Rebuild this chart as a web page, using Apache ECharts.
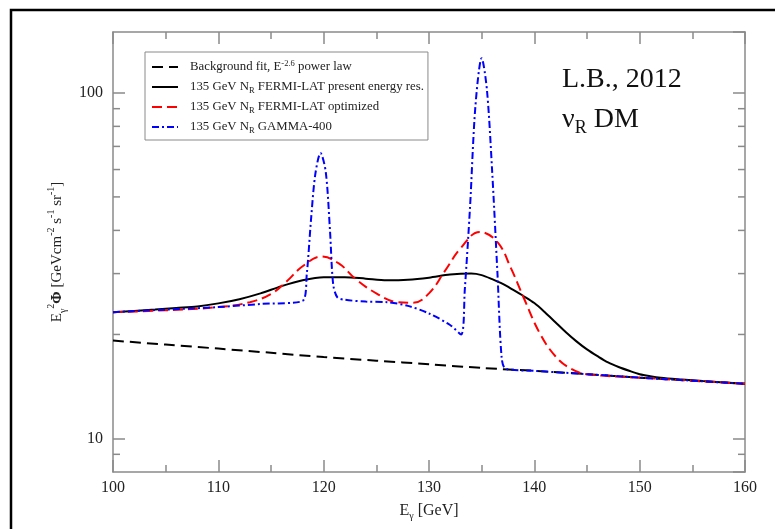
<!DOCTYPE html>
<html>
<head>
<meta charset="utf-8">
<script src="https://cdn.jsdelivr.net/npm/echarts@6/dist/echarts.min.js"></script>
<style>
  html, body { margin: 0; padding: 0; background: #fff; }
  #chart { width: 775px; height: 529px; }
</style>
</head>
<body>
<div id="chart"></div>
<script>
// Photon energy (GeV) and E^2 * flux (GeV cm^-2 s^-1 sr^-1) for each curve
const bgEnergy = [100, 105, 110, 115, 120, 125, 130, 135, 140, 145, 150, 155, 160];
const bgFlux   = [19.2, 18.7, 18.2, 17.7, 17.2, 16.8, 16.4, 16.0, 15.7, 15.35, 15.0, 14.7, 14.4];

const presEnergy = [100, 102, 104, 106, 108, 110, 112, 114, 116, 118, 120, 122, 124, 126, 128, 130,
                    132, 134, 135, 136, 137, 138, 139, 140, 141, 142, 143, 144, 145, 146, 147, 148,
                    149, 150, 151, 152, 154, 156, 158, 160];
const presFlux   = [23.2, 23.4, 23.6, 23.85, 24.1, 24.6, 25.3, 26.3, 27.6, 28.7, 29.3, 29.3, 29.0, 28.7, 28.8, 29.2,
                    29.8, 30.0, 29.7, 28.9, 28.0, 26.9, 25.8, 24.65, 23.2, 21.7, 20.3, 19.1, 18.1, 17.3, 16.6, 16.1,
                    15.7, 15.35, 15.15, 15.0, 14.82, 14.66, 14.53, 14.4];

const optEnergy = [100, 105, 110, 113, 115, 116.5, 118, 119.8, 121.5, 123, 125, 127, 128.5, 130, 131.5, 133,
                   134.8, 136.5, 137.8, 139, 140.5, 142, 143.5, 145, 150, 155, 160];
const optFlux   = [23.2, 23.5, 24.0, 24.8, 26.2, 28.5, 31.5, 33.6, 32.0, 29.0, 26.3, 24.8, 24.7, 26.3, 30.5, 35.5,
                   39.6, 37.0, 31.0, 25.5, 20.2, 17.3, 15.9, 15.35, 15.0, 14.7, 14.4];

const g400Energy = [100, 105, 110, 114, 118, 118.4, 118.8, 119.2, 119.7, 120.2, 120.6, 120.9, 121.3, 122, 124, 126,
                    128, 130, 132, 133.05, 133.4, 133.9, 134.4, 135.0, 135.5, 136.0, 136.5, 136.9, 137.3, 140, 145,
                    150, 155, 160];
const g400Flux   = [23.2, 23.6, 24.0, 24.5, 25.0, 30, 43, 58, 67, 59, 40, 28, 25.6, 25.2, 24.9, 24.8,
                    24.2, 23.0, 21.3, 20.0, 27, 47, 91, 126, 102, 59, 30, 17.1, 15.9, 15.7, 15.35,
                    15.0, 14.7, 14.4];

// Minor tick values on the logarithmic flux axis
const yMinorTicks = [9, 20, 30, 40, 50, 60, 70, 80, 90];

const seriesNames = [
  'Background fit, E-2.6 power law',
  '135 GeV NR FERMI-LAT present energy res.',
  '135 GeV NR FERMI-LAT optimized',
  '135 GeV NR GAMMA-400'
];
const legendRich = {
  'Background fit, E-2.6 power law': 'Background fit, E{sup|-2.6} power law',
  '135 GeV NR FERMI-LAT present energy res.': '135 GeV N{sub|R} FERMI-LAT present energy res.',
  '135 GeV NR FERMI-LAT optimized': '135 GeV N{sub|R} FERMI-LAT optimized',
  '135 GeV NR GAMMA-400': '135 GeV N{sub|R} GAMMA-400'
};

const zip = (xs, ys) => xs.map((x, i) => [x, ys[i]]);
const SERIF = 'Liberation Serif';
const AXIS_COLOR = '#8a8a8a';

const chart = echarts.init(document.getElementById('chart'), null, { renderer: 'canvas' });

const axisRich = {
  sup: { fontSize: 10, lineHeight: 10, verticalAlign: 'top', fontFamily: SERIF, color: '#222' },
  sub: { fontSize: 10, lineHeight: 10, verticalAlign: 'bottom', fontFamily: SERIF, color: '#222' },
  b: { fontSize: 15, lineHeight: 22, fontFamily: SERIF, color: '#222', fontWeight: 'bold' }
};

const option = {
  animation: false,
  backgroundColor: '#fff',
  grid: { left: 113, right: 30, top: 32, bottom: 57, containLabel: false },
  legend: {
    data: seriesNames,
    orient: 'vertical',
    left: 145,
    top: 52,
    padding: [7, 4, 5, 6],
    itemGap: 4,
    itemWidth: 26,
    itemHeight: 10,
    borderColor: '#8a8a8a',
    borderWidth: 1,
    backgroundColor: '#fff',
    selectedMode: false,
    itemStyle: { opacity: 0 },
    formatter: name => legendRich[name],
    textStyle: {
      fontFamily: SERIF,
      fontSize: 12.8,
      lineHeight: 16,
      color: '#222',
      padding: [0, 0, 0, 7],
      rich: {
        sup: { fontSize: 8.5, lineHeight: 8, verticalAlign: 'top', fontFamily: SERIF, color: '#222' },
        sub: { fontSize: 8.5, lineHeight: 8, verticalAlign: 'bottom', fontFamily: SERIF, color: '#222' }
      }
    }
  },
  xAxis: [
    {
      type: 'value', min: 100, max: 160, interval: 10, position: 'bottom',
      name: 'E{sub|γ} [GeV]',
      nameLocation: 'middle', nameGap: 26,
      nameTextStyle: { fontFamily: SERIF, fontSize: 16, color: '#222', lineHeight: 20, rich: axisRich },
      axisLine: { lineStyle: { color: AXIS_COLOR, width: 1.5 } },
      axisTick: { inside: true, length: 12, lineStyle: { color: AXIS_COLOR, width: 1.5 } },
      minorTick: { show: true, splitNumber: 2, length: 7, lineStyle: { color: AXIS_COLOR, width: 1.5 } },
      axisLabel: { fontFamily: SERIF, fontSize: 16, color: '#222', margin: 8 },
      splitLine: { show: false }
    },
    {
      type: 'value', min: 100, max: 160, interval: 10, position: 'top',
      axisLine: { lineStyle: { color: AXIS_COLOR, width: 1.5 } },
      axisTick: { inside: true, length: 12, lineStyle: { color: AXIS_COLOR, width: 1.5 } },
      minorTick: { show: true, splitNumber: 2, length: 7, lineStyle: { color: AXIS_COLOR, width: 1.5 } },
      axisLabel: { show: false },
      splitLine: { show: false }
    }
  ],
  yAxis: [
    {
      type: 'log', logBase: 10, min: 8, max: 150, position: 'left',
      name: 'E{sub|γ}{sup|2}{b|Φ} [GeVcm{sup|-2} s{sup|-1} sr{sup|-1}]',
      nameLocation: 'middle', nameGap: 39, nameRotate: 90,
      nameTextStyle: { fontFamily: SERIF, fontSize: 15, color: '#222', lineHeight: 22, rich: axisRich },
      axisLine: { lineStyle: { color: AXIS_COLOR, width: 1.5 } },
      axisTick: { inside: true, length: 12, lineStyle: { color: AXIS_COLOR, width: 1.5 } },
      axisLabel: {
        fontFamily: SERIF, fontSize: 16, color: '#222', margin: 10,
        showMinLabel: false, showMaxLabel: false,
        formatter: v => (v === 10 || v === 100) ? String(v) : ''
      },
      splitLine: { show: false }
    },
    {
      type: 'log', logBase: 10, min: 8, max: 150, position: 'right',
      axisLine: { lineStyle: { color: AXIS_COLOR, width: 1.5 } },
      axisTick: { inside: true, length: 12, lineStyle: { color: AXIS_COLOR, width: 1.5 } },
      axisLabel: { show: false },
      splitLine: { show: false }
    }
  ],
  series: [
    {
      name: seriesNames[0], type: 'line', data: zip(bgEnergy, bgFlux),
      showSymbol: false, symbol: 'none', smooth: 0.3, z: 3,
      lineStyle: { color: '#000', width: 2, type: [11, 6] },
      itemStyle: { color: '#000' }
    },
    {
      name: seriesNames[1], type: 'line', data: zip(presEnergy, presFlux),
      showSymbol: false, symbol: 'none', smooth: 0.3, z: 4,
      lineStyle: { color: '#000', width: 2, type: 'solid' },
      itemStyle: { color: '#000' }
    },
    {
      name: seriesNames[2], type: 'line', data: zip(optEnergy, optFlux),
      showSymbol: false, symbol: 'none', smooth: 0.4, z: 5,
      lineStyle: { color: '#ff0000', width: 2, type: [10, 5] },
      itemStyle: { color: '#ff0000' }
    },
    {
      name: seriesNames[3], type: 'line', data: zip(g400Energy, g400Flux),
      showSymbol: false, symbol: 'none', smooth: 0.3, z: 6,
      lineStyle: { color: '#0000ff', width: 2, type: [7, 3, 2, 3] },
      itemStyle: { color: '#0000ff' }
    },
    {
      // minor ticks of the logarithmic axis, on both the left and right frame
      type: 'custom', silent: true, z: 2,
      data: yMinorTicks.map(v => [100, v]),
      encode: { x: 0, y: 1 },
      renderItem: (params, api) => {
        const v = api.value(1);
        const l = api.coord([100, v]);
        const r = api.coord([160, v]);
        const st = { stroke: AXIS_COLOR, lineWidth: 1.5 };
        return {
          type: 'group',
          children: [
            { type: 'line', shape: { x1: l[0], y1: l[1], x2: l[0] + 7, y2: l[1] }, style: st },
            { type: 'line', shape: { x1: r[0], y1: r[1], x2: r[0] - 7, y2: r[1] }, style: st }
          ]
        };
      }
    }
  ],
  graphic: [
    {
      type: 'rect', silent: true, z: 100,
      shape: { x: 11, y: 10, width: 900, height: 700 },
      style: { fill: 'none', stroke: '#000', lineWidth: 2.5 }
    },
    {
      type: 'text', left: 562, top: 66, silent: true, z: 100,
      style: { text: 'L.B., 2012', font: '28px "Liberation Serif"', fill: '#111' }
    },
    {
      type: 'text', left: 562, top: 106, silent: true, z: 100,
      style: {
        text: '{m|ν}{s|R}{m| DM}',
        rich: {
          m: { font: '28px "Liberation Serif"', fill: '#111', lineHeight: 34 },
          s: { font: '18px "Liberation Serif"', fill: '#111', lineHeight: 18, verticalAlign: 'bottom' }
        }
      }
    }
  ]
};

chart.setOption(option);
</script>
</body>
</html>
